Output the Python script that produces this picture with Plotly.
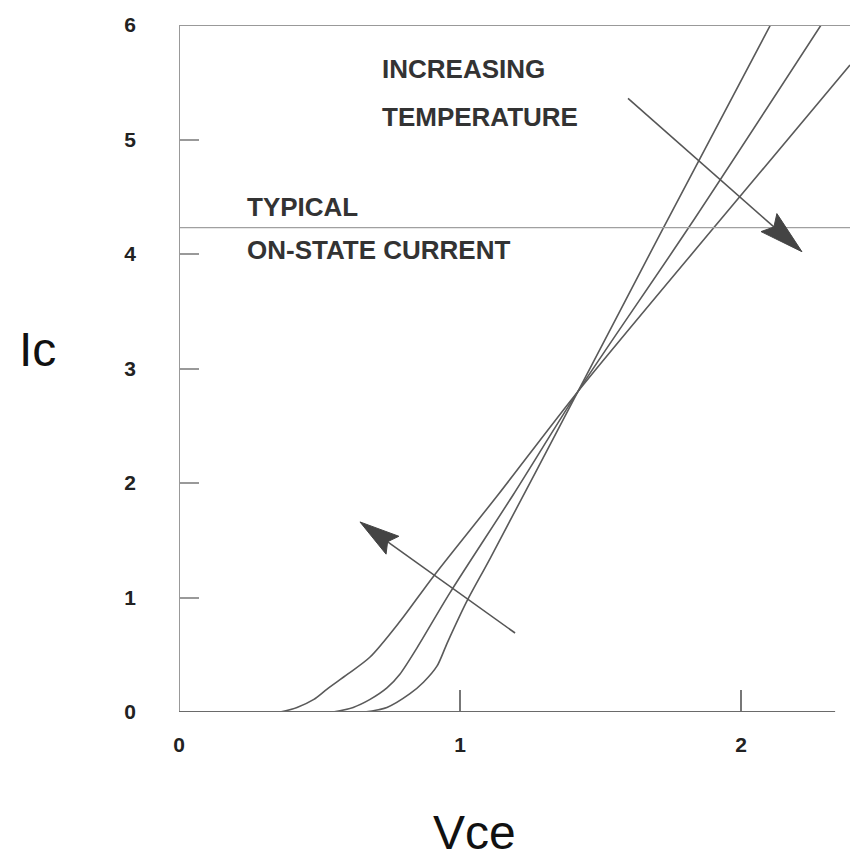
import plotly.graph_objects as go

# ---------------- data ----------------
vce_a = [0.36, 0.42, 0.48, 0.527, 0.60, 0.68, 0.786, 0.904, 1.13, 1.42, 1.90, 2.388]
ic_a = [0.0, 0.04, 0.11, 0.20, 0.33, 0.48, 0.79, 1.18, 1.88, 2.80, 4.22, 5.65]

vce_b = [0.548, 0.62, 0.68, 0.74, 0.786, 0.847, 0.964, 1.19, 1.42, 1.811, 2.285]
ic_b = [0.0, 0.04, 0.11, 0.21, 0.33, 0.56, 1.04, 1.90, 2.80, 4.22, 6.0]

vce_c = [0.66, 0.74, 0.822, 0.87, 0.918, 0.954, 1.025, 1.107, 1.42, 1.722, 2.105]
ic_c = [0.0, 0.04, 0.16, 0.26, 0.40, 0.60, 0.97, 1.34, 2.80, 4.22, 6.0]

typical_current = 4.23

x_tick_vals = [0, 1, 2]
x_tick_text = ["0", "1", "2"]
y_tick_vals = [0, 1, 2, 3, 4, 5, 6]
y_tick_text = ["0", "1", "2", "3", "4", "5", "6"]

# arrows: (tail V, tail I, tip V, tip I)
arrow_up = (1.598, 5.36, 2.217, 4.02)
arrow_low = (1.196, 0.69, 0.644, 1.66)

# ---------------- layout geometry ----------------
W, H = 850, 860
ML, MR, MT, MB = 179, 0, 25, 148
X_MAX = 2.388
Y_MAX = 6.0
PW = W - ML - MR
PH = H - MT - MB
SX = PW / X_MAX
SY = PH / Y_MAX

LINE = "#5a5a5a"
TXT = "#333333"

fig = go.Figure()
for vx, iy in [(vce_a, ic_a), (vce_b, ic_b), (vce_c, ic_c)]:
    fig.add_trace(go.Scatter(x=vx, y=iy, mode="lines",
                             line=dict(color=LINE, width=1.6, shape="spline", smoothing=0.8),
                             hoverinfo="skip", showlegend=False, cliponaxis=True))

# typical on-state current line
fig.add_shape(type="line", xref="x", yref="y", x0=0, x1=X_MAX, y0=typical_current, y1=typical_current,
              line=dict(color="#a0a0a0", width=1.3))

# frame lines
fig.add_shape(type="line", xref="x", yref="y", x0=0, x1=0, y0=0, y1=Y_MAX,
              line=dict(color="#999999", width=2))
fig.add_shape(type="line", xref="x", yref="y", x0=0, x1=X_MAX, y0=Y_MAX, y1=Y_MAX,
              line=dict(color="#999999", width=2))
fig.add_shape(type="line", xref="x", yref="y", x0=0, x1=2.335, y0=0, y1=0,
              line=dict(color="#6a6a6a", width=2))


def add_arrow(a, head_len=44, head_half=12):
    x0, y0, x1, y1 = a
    px0, py0 = x0 * SX, -y0 * SY
    px1, py1 = x1 * SX, -y1 * SY
    dx, dy = px1 - px0, py1 - py0
    L = (dx * dx + dy * dy) ** 0.5
    ux, uy = dx / L, dy / L
    nx, ny = -uy, ux
    bx, by = px1 - ux * head_len, py1 - uy * head_len
    pts = [(px1, py1), (bx + nx * head_half, by + ny * head_half),
           (px1 - ux * head_len * 0.85, py1 - uy * head_len * 0.85),
           (bx - nx * head_half, by - ny * head_half)]
    d = [(p[0] / SX, -p[1] / SY) for p in pts]
    path = "M {} {} L {} {} L {} {} L {} {} Z".format(*[c for p in d for c in p])
    sx_end = (px1 - ux * head_len * 0.8) / SX
    sy_end = -(py1 - uy * head_len * 0.8) / SY
    fig.add_shape(type="line", xref="x", yref="y", x0=x0, y0=y0, x1=sx_end, y1=sy_end,
                  line=dict(color="#555555", width=1.6))
    fig.add_shape(type="path", xref="x", yref="y", path=path,
                  fillcolor="#444444", line=dict(color="#444444", width=1))


add_arrow(arrow_up)
add_arrow(arrow_low, head_len=40, head_half=11)


def px2d(px, py):
    return (px - ML) / SX, (H - MB - py) / SY


def px2paper(px, py):
    return (px - ML) / PW, (H - MB - py) / PH


bold = dict(family="Liberation Sans, Arial, sans-serif", size=26, color=TXT, weight="bold")
for text, px, py in [("INCREASING", 380, 69), ("TEMPERATURE", 380, 117),
                     ("TYPICAL", 245, 207), ("ON-STATE CURRENT", 245, 250)]:
    xd, yd = px2d(px, py)
    fig.add_annotation(x=xd, y=yd, xref="x", yref="y", text=text, showarrow=False,
                       xanchor="left", yanchor="middle", font=bold)

big = dict(family="Liberation Sans, Arial, sans-serif", size=48, color="#111111")
xp, yp = px2paper(37, 349)
fig.add_annotation(x=xp, y=yp, xref="paper", yref="paper", text="Ic",
                   showarrow=False, xanchor="center", yanchor="middle", font=big)
xp, yp = px2paper(474, 832)
fig.add_annotation(x=xp, y=yp, xref="paper", yref="paper", text="Vce",
                   showarrow=False, xanchor="center", yanchor="middle", font=big)

tickfont = dict(family="Liberation Sans, Arial, sans-serif", size=21, color="#222222", weight="bold")
fig.update_xaxes(range=[0, X_MAX], tickmode="array", tickvals=x_tick_vals, ticktext=x_tick_text,
                 ticks="inside", ticklen=22, tickwidth=1.5, tickcolor="#777777",
                 showgrid=False, zeroline=False, showline=False, tickfont=tickfont,
                 ticklabelstandoff=18, fixedrange=True)
fig.update_yaxes(range=[0, Y_MAX], tickmode="array", tickvals=y_tick_vals, ticktext=y_tick_text,
                 ticks="inside", ticklen=20, tickwidth=1.5, tickcolor="#999999",
                 showgrid=False, zeroline=False, showline=False, tickfont=tickfont,
                 ticklabelstandoff=42, fixedrange=True)

fig.update_layout(width=W, height=H, margin=dict(l=ML, r=MR, t=MT, b=MB),
                  paper_bgcolor="white", plot_bgcolor="white", showlegend=False)

fig.write_html("out.html", config={"displayModeBar": False})
